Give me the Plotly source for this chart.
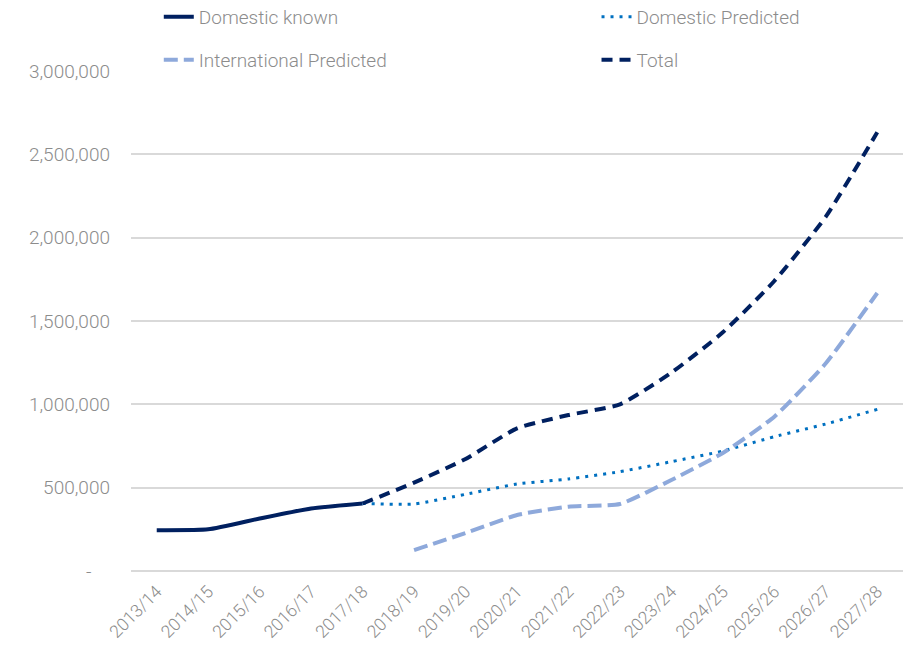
import plotly.graph_objects as go

years = ["2013/14", "2014/15", "2015/16", "2016/17", "2017/18", "2018/19", "2019/20",
         "2020/21", "2021/22", "2022/23", "2023/24", "2024/25", "2025/26", "2026/27", "2027/28"]

domestic_known = [245000, 250000, 315000, 375000, 405000] + [None] * 10
domestic_predicted = [None] * 4 + [405000, 402000, 460000, 522000, 552000, 596000,
                                   656000, 720000, 806000, 882000, 970000]
international_predicted = [None] * 5 + [125000, 228000, 336000, 386000, 402000,
                                        546000, 708000, 926000, 1246000, 1668000]
total = [None] * 4 + [405000, 530000, 672000, 856000, 936000, 1000000,
                      1190000, 1432000, 1740000, 2126000, 2632000]

ytick_vals = [0, 500000, 1000000, 1500000, 2000000, 2500000, 3000000]
ytick_text = ["-\u00a0\u00a0\u00a0\u00a0", "500,000", "1,000,000", "1,500,000",
              "2,000,000", "2,500,000", "3,000,000"]

NAVY = "#002060"
BLUE = "#0070C0"
LIGHT = "#8EA9DB"
GREY = "#8c8c8c"
FONT = "Roboto"

fig = go.Figure()
fig.add_trace(go.Scatter(x=years, y=domestic_known, name="Domestic known", mode="lines",
                         legend="legend",
                         line=dict(color=NAVY, width=4, shape="spline", smoothing=0.5)))
fig.add_trace(go.Scatter(x=years, y=domestic_predicted, name="Domestic Predicted", mode="lines",
                         legend="legend2",
                         line=dict(color=BLUE, width=3, dash="3px,6px", shape="spline", smoothing=0.5)))
fig.add_trace(go.Scatter(x=years, y=international_predicted, name="International Predicted", mode="lines",
                         legend="legend3",
                         line=dict(color=LIGHT, width=4, dash="14px,6px", shape="spline", smoothing=0.5)))
fig.add_trace(go.Scatter(x=years, y=total, name="Total", mode="lines",
                         legend="legend4",
                         line=dict(color=NAVY, width=4, dash="11px,7px", shape="spline", smoothing=0.5)))

legend_common = dict(orientation="h", xanchor="left", yanchor="middle",
                     font=dict(family=FONT, size=19, color=GREY, weight=300),
                     bgcolor="rgba(0,0,0,0)", itemwidth=30)

fig.update_layout(
    width=903, height=653,
    margin=dict(l=131, r=0, t=71, b=82, autoexpand=False),
    paper_bgcolor="white", plot_bgcolor="white",
    font=dict(family=FONT, color=GREY, size=16),
    showlegend=True,
    legend=dict(legend_common, x=0.036, y=1.108),
    legend2=dict(legend_common, x=0.603, y=1.108),
    legend3=dict(legend_common, x=0.036, y=1.022),
    legend4=dict(legend_common, x=0.603, y=1.022),
    xaxis=dict(type="category", tickangle=-45, showgrid=False, showline=False, zeroline=False,
               ticks="", ticklabelstandoff=6,
               tickfont=dict(family=FONT, size=17.5, color=GREY, weight=300),
               range=[-0.5, 14.5]),
    yaxis=dict(range=[0, 3000000], tickvals=ytick_vals, ticktext=ytick_text,
               showgrid=True, gridcolor="#d9d9d9", gridwidth=1.5, zeroline=True,
               zerolinecolor="#d9d9d9", zerolinewidth=1.5, showline=False, ticks="",
               ticklabelstandoff=20,
               tickfont=dict(family=FONT, size=19, color=GREY, weight=300)),
)

fig.write_html("out.html")
